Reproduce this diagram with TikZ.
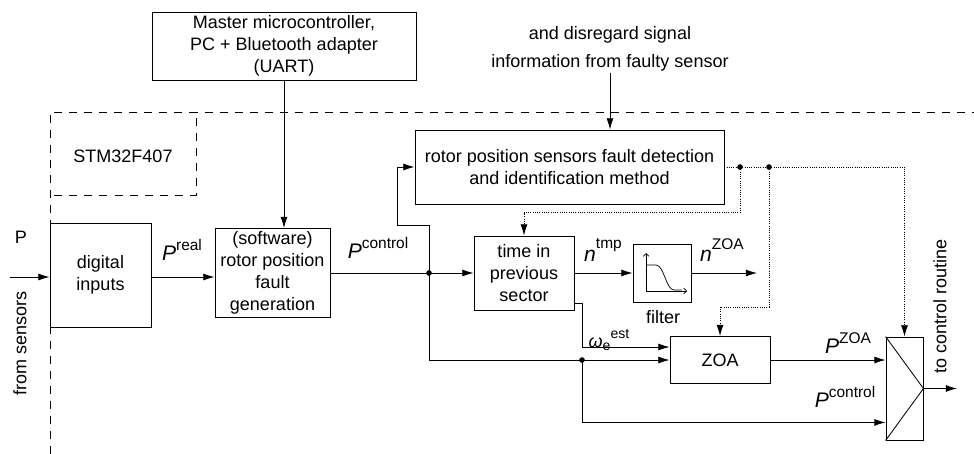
\documentclass[tikz,border=0pt]{standalone}
\usepackage{fontspec}
\setmainfont{Liberation Sans}
\usetikzlibrary{arrows.meta,calc}

% signal name with a superscript
\newcommand{\sigvar}[3][7pt]{{\fontsize{15}{15}\selectfont\itshape #2}\raisebox{#1}{\fontsize{11}{11}\selectfont #3}}

\begin{document}
\begin{tikzpicture}[x=0.025cm,y=-0.025cm,
	font=\fontsize{12.8}{15.5}\selectfont,
	line width=0.6pt,
	block/.style={rectangle,draw,align=center,inner sep=0pt},
	sig/.style={-{Latex[length=8pt,width=5pt]}},
	flag/.style={densely dotted},
	border/.style={dash pattern=on 5.7pt off 5pt}]
	\useasboundingbox (0,0) rectangle (974,454);

	% board frame
	\draw[border] (50,454) -- (50,112) -- (974,112);
	\draw[border] (196,118) -- (196,195) -- (50,195);
	\node (stm) at (123,156) {STM32F407};

	% blocks
	\node (master) at (284,46) [block,minimum width=6.6cm,minimum height=1.7cm] {Master microcontroller,\\PC + Bluetooth adapter\\(UART)};
	\node (digital) at (100.5,275) [block,minimum width=2.525cm,minimum height=2.6cm] {digital\\inputs};
	\node (software) at (272.5,273) [block,minimum width=2.875cm,minimum height=2.225cm] {(software)\\rotor position\\fault\\generation};
	\node (fault) at (569.5,167) [block,minimum width=7.725cm,minimum height=1.85cm] {rotor position sensors fault detection\\and identification method};
	\node (time) at (524,273) [block,minimum width=2.5cm,minimum height=1.85cm] {time in\\previous\\sector};
	\node (filter) at (662,273) [block,minimum width=1.45cm,minimum height=1.45cm] {};
	\node (zoa) at (720,360) [block,minimum width=2.5cm,minimum height=1.175cm] {ZOA};
	\node (mux) at (904.5,388.5) [block,minimum width=0.925cm,minimum height=2.575cm] {};

	% texts
	\node (note) at (610,49) [align=center,inner sep=1pt,font=\fontsize{12.8}{20}\selectfont] {and disregard signal\\information from faulty sensor};
	\node (plabel) at (21,237) {P};
	\node (fromsens) at (20,343) [rotate=90] {from sensors};
	\node (preal) at (182,250) {\sigvar{P}{real}};
	\node (pctrl) at (378,248) {\sigvar{P}{control}};
	\node (ntmp) at (603,250) {\sigvar[9pt]{n}{tmp}};
	\node (nzoa) at (722,250) {\sigvar[9pt]{n}{ZOA}};
	\node (filtname) at (663,317) {filter};
	\node (omega) at (609,340) {{\itshape ω}\raisebox{-2pt}{\fontsize{10}{10}\selectfont e}\raisebox{6pt}{\fontsize{10}{10}\selectfont est}};
	\node (pzoa) at (848,343) {\sigvar{P}{ZOA}};
	\node (pctrl2) at (845,397) {\sigvar{P}{control}};
	\node (toctrl) at (940,306) [rotate=90] {to control routine};

	% points
	\coordinate (pin) at (10,277);
	\coordinate (jc) at (429,273);
	\coordinate (loop) at (397,225);
	\coordinate (jz) at (582,360);
	\coordinate (wbend) at (582,347);
	\coordinate (nout) at (757,273);
	\coordinate (mout) at (957,388.5);
	\coordinate (d1) at (740,167);
	\coordinate (d2) at (769,167);

	% signals
	\draw[sig] (master.south) -- (master.south |- software.north);
	\draw[sig] (note.south) -- (note.south |- fault.north);
	\draw[sig] (pin) -- (pin -| digital.west);
	\draw[sig] (digital.east |- pin) -- (pin -| software.west);
	\draw (software.east) -- (jc);
	\draw[sig] (jc) -- (time.west);
	\draw[sig] (jc) |- (loop) |- (fault.west);
	\draw[sig] (jc) |- (zoa.west);
	\draw[sig] (jz) |- ($(mux.south west)+(0,-18)$);
	\draw[sig] (time.east) -- (filter.west);
	\draw[sig] (filter.east) -- (nout);
	\draw[sig] ($(time.south east)+(0,-7)$) -| (wbend) -- (wbend -| zoa.west);
	\draw[sig] (zoa.east) -- (zoa.east -| mux.west);
	\draw (mux.north west) -- (mux.east) -- (mux.south west);
	\draw[sig] (mux.east) -- (mout);

	% fault flags
	\draw[flag] (fault.east) -- (d2);
	\draw[flag,sig] (d2) -| (mux.north);
	\draw[flag,sig] (d1) |- ($(time.north)+(0,-23)$) -- (time.north);
	\draw[flag,sig] (d2) |- ($(zoa.north)+(0,-29)$) -- (zoa.north);

	\foreach \p in {jc,jz,d1,d2}
		\fill (\p) circle (2pt);

	% filter icon
	\begin{scope}[shift={(filter.center)},line width=0.5pt]
		\draw[-{Straight Barb[length=2pt,width=4pt]}] (-16,18) -- (-16,-20);
		\draw[-{Straight Barb[length=2pt,width=4pt]}] (-16,18) -- (25,18);
		\draw (-16,-8) -- (-6,-8) .. controls (2,-8) and (4,17) .. (12,17) -- (20,17);
	\end{scope}
\end{tikzpicture}
\end{document}
